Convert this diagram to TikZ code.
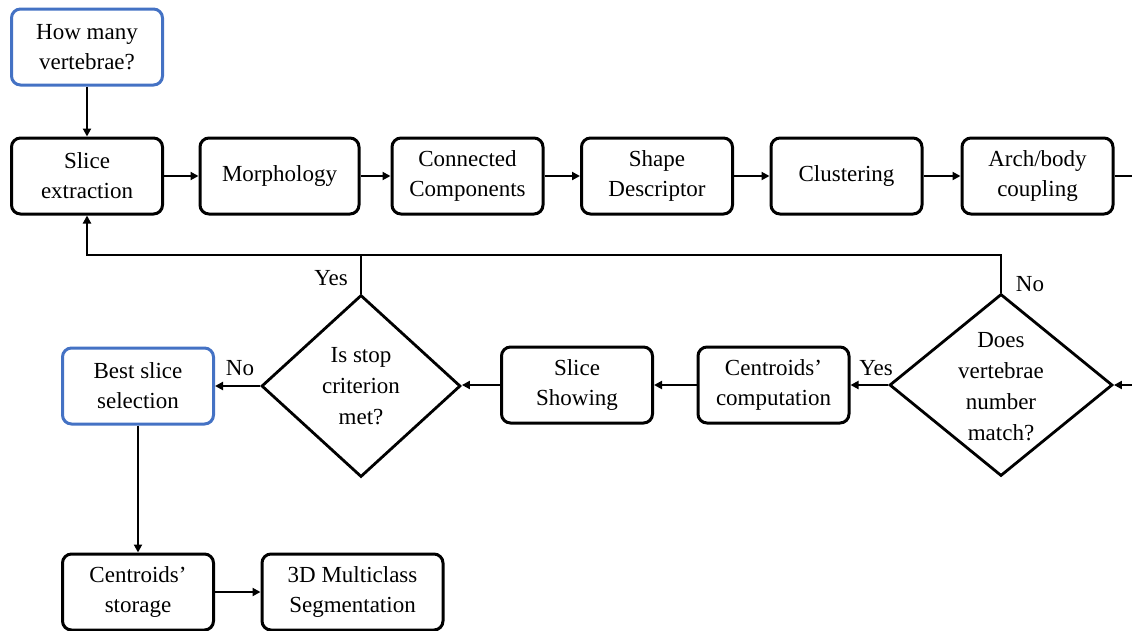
\documentclass[tikz,border=0pt]{standalone}
\usepackage{fontspec}
\setmainfont{Liberation Serif}
\usetikzlibrary{shapes.geometric,arrows.meta}
\definecolor{boxblue}{HTML}{4472C4}
\begin{document}
\begin{tikzpicture}[x=1pt,y=-1pt,
  proc/.style={draw, rounded corners=9pt, line width=3pt, minimum width=151pt, minimum height=76pt,
    align=center, inner sep=0pt, font=\fontsize{23}{30}\selectfont},
  bluebox/.style={proc, draw=boxblue},
  dia/.style={draw, diamond, line width=2.8pt, inner sep=0pt},
  txt/.style={align=center, inner sep=0pt, font=\fontsize{23}{31}\selectfont},
  lab/.style={inner sep=0pt, font=\fontsize{23}{26}\selectfont},
  arr/.style={line width=2.8pt, -{Triangle[length=8pt,width=8pt]}},
  ln/.style={line width=2.8pt}]
\clip (0,0) rectangle (1132,630);
% top row
\node[bluebox] (hmv) at (87,47) {How many\\vertebrae?};
\node[proc] (se) at (87,176) {Slice\\extraction};
\node[proc, minimum width=159pt] (mo) at (279.5,176) {Morphology};
\node[proc] (cc) at (467.5,176) {Connected\\Components};
\node[proc] (sd) at (657,176) {Shape\\Descriptor};
\node[proc] (cl) at (846.5,176) {Clustering};
\node[proc] (ab) at (1037.5,176) {Arch/body\\coupling};
% middle row
\node[dia, minimum width=223pt, minimum height=182pt] (d2) at (1001,385) {};
\node[txt] (d2t) at (1001,387) {Does\\vertebrae\\number\\match?};
\node[proc] (cco) at (773.5,385) {Centroids'\\computation};
\node[proc] (ss) at (577,385) {Slice\\Showing};
\node[dia, minimum width=199pt, minimum height=182pt] (d1) at (361,386) {};
\node[txt] (d1t) at (361,386) {Is stop\\criterion\\met?};
\node[bluebox] (bs) at (138,386) {Best slice\\selection};
% bottom row
\node[proc] (cs) at (138,592) {Centroids'\\storage};
\node[proc, minimum width=181pt] (ms) at (352.5,592) {3D Multiclass\\Segmentation};
% coordinates
\coordinate (fbl) at (87,255);
\coordinate (fbr) at (1001,255);
\coordinate (fbm) at (361,255);
\coordinate (r1) at (1150,176);
\coordinate (r2) at (1150,385);
% connectors
\draw[arr] (hmv) -- (se);
\draw[arr] (se) -- (mo);
\draw[arr] (mo) -- (cc);
\draw[arr] (cc) -- (sd);
\draw[arr] (sd) -- (cl);
\draw[arr] (cl) -- (ab);
\draw[arr] (ab.east) -- (r1) -- (r2) -- (d2.east);
\draw[arr] (d2.west) -- (cco.east);
\draw[arr] (cco.west) -- (ss.east);
\draw[arr] (ss.west) -- (d1.east |- ss.west);
\draw[arr] (d1.west) -- (bs.east);
\draw[arr] (d2.north) -- (fbr) -- (fbl) -- (se.south);
\draw[ln] (d1.north) -- (fbm);
\draw[arr] (bs) -- (cs);
\draw[arr] (cs) -- (ms);
% labels
\node[lab] (ly1) at (331,278) {Yes};
\node[lab] (ln2) at (1030,284) {No};
\node[lab] (ln1) at (240,368) {No};
\node[lab] (ly2) at (876,368) {Yes};
\end{tikzpicture}
\end{document}
